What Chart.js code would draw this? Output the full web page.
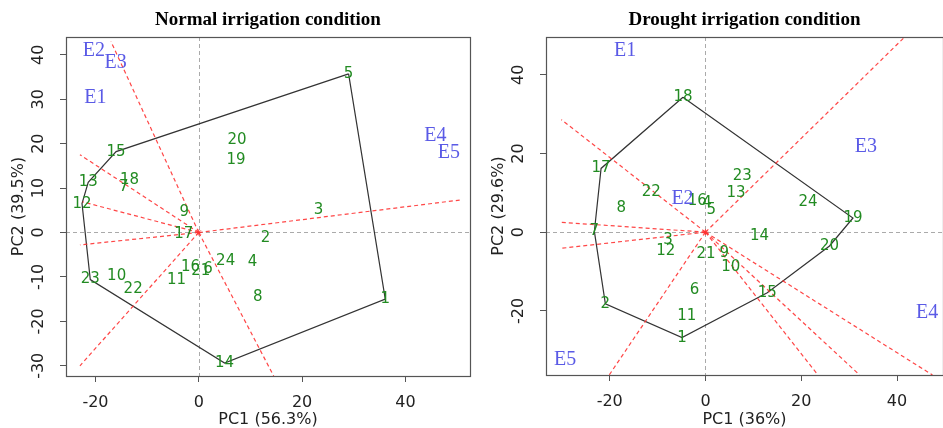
<!DOCTYPE html>
<html>
<head>
<meta charset="utf-8">
<script src="https://cdn.jsdelivr.net/npm/chart.js@4.4.1/dist/chart.umd.min.js"></script>
<style>
html, body { margin: 0; padding: 0; background: #fff; overflow: hidden; width: 943px; height: 428px; }
canvas { position: absolute; top: 0; }
</style>
</head>
<body>
<canvas id="normalChart" width="478" height="428" style="left:0"></canvas>
<canvas id="droughtChart" width="470" height="428" style="left:478px"></canvas>
<script>
// genotype labels 1..24 and environment labels
const genotypes = ['1','2','3','4','5','6','7','8','9','10','11','12','13','14','15','16','17','18','19','20','21','22','23','24'];
const envs = ['E1','E2','E3','E4','E5'];

// normal irrigation biplot
const normGenX = [36.1, 12.9, 23.2, 10.4, 29.0, 1.8, -14.5, 11.4, -2.8, -15.9, -4.3, -22.6, -21.4, 5.0, -16.0, -1.6, -2.9, -13.4, 7.2, 7.4, 0.4, -12.7, -21.0, 5.2];
const normGenY = [-15.0, -1.3, 5.1, -6.7, 35.7, -8.3, 10.2, -14.5, 4.5, -9.9, -10.7, 6.5, 11.3, -29.4, 18.2, -7.8, -0.4, 11.8, 16.3, 20.7, -8.6, -12.7, -10.6, -6.4];
const normEnvX = [-20.0, -20.3, -16.1, 45.8, 48.4];
const normEnvY = [30.4, 40.9, 38.3, 21.7, 18.0];
const normHull = [5, 1, 14, 23, 12, 13, 15, 5];
const normRayX = [-17.0, -23.0, -22.5, -23.0, -23.0, 14.5, 50.5];
const normRayY = [43.0, 17.5, 6.9, -2.8, -30.0, -32.3, 7.3];
const normXTicks = [-20, 0, 20, 40];
const normYTicks = [-30, -20, -10, 0, 10, 20, 30, 40];

// drought irrigation biplot
const drouGenX = [-4.9, -20.9, -7.8, 0.3, 1.2, -2.3, -23.2, -17.6, 3.9, 5.3, -3.9, -8.3, 6.4, 11.3, 12.9, -1.7, -21.8, -4.7, 30.8, 25.9, 0.1, -11.3, 7.7, 21.4];
const drouGenY = [-26.8, -18.2, -2.0, 7.4, 5.7, -14.7, 0.2, 6.1, -5.3, -8.9, -21.3, -4.9, 9.9, -0.9, -15.4, 8.0, 16.2, 34.3, 3.6, -3.5, -5.6, 10.3, 14.3, 7.6];
const drouEnvX = [-16.8, -4.8, 33.5, 46.3, -29.3];
const drouEnvY = [46.2, 8.6, 21.6, -20.6, -32.5];
const drouHull = [18, 19, 20, 15, 1, 2, 7, 17, 18];
const drouRayX = [41.6, -30.1, -30.1, -30.1, -20.1, 23.5, 32.2, 47.4];
const drouRayY = [49.6, 28.6, 2.5, -4.1, -36.3, -36.3, -36.3, -36.3];
const drouXTicks = [-20, 0, 20, 40];
const drouYTicks = [-20, 0, 20, 40];

const GREEN = '#228B22'
const BLUE = '#5a5ae6'
const RED = 'rgba(255,50,50,0.9)'

// draws zero lines, point labels, the box and rotated y tick labels
const biplotPlugin = {
    id: 'biplot',
    beforeDatasetsDraw(chart) {
        const { ctx, chartArea: a, scales: { x, y } } = chart;
        const px = Math.round(x.getPixelForValue(0)) + 0.5;
        const py = Math.round(y.getPixelForValue(0)) + 0.5;
        ctx.save();
        ctx.strokeStyle = '#aaa';
        ctx.lineWidth = 1;
        ctx.setLineDash([4, 3]);
        ctx.beginPath();
        ctx.moveTo(px, a.top); ctx.lineTo(px, a.bottom);
        ctx.moveTo(a.left, py); ctx.lineTo(a.right, py);
        ctx.stroke();
        ctx.restore();
    },
    afterDatasetsDraw(chart) {
        const { ctx, chartArea: a } = chart;
        ctx.save();
        ctx.textAlign = 'center';
        ctx.textBaseline = 'middle';
        chart.data.datasets.forEach((ds, i) => {
            if (!ds.labels) return;
            ctx.font = ds.labelFont;
            ctx.fillStyle = ds.labelColor;
            chart.getDatasetMeta(i).data.forEach((pt, j) => ctx.fillText(ds.labels[j], pt.x, pt.y));
        });
        ctx.strokeStyle = '#555';
        ctx.lineWidth = 1.2;
        ctx.strokeRect(Math.round(a.left) + 0.5, Math.round(a.top) + 0.5, Math.round(a.right - a.left), Math.round(a.bottom - a.top));
        const y = chart.scales.y;
        ctx.font = '16px "DejaVu Sans"';
        ctx.fillStyle = '#222';
        y.ticks.forEach(t => {
            ctx.save();
            ctx.translate(a.left - 27.5, y.getPixelForValue(t.value));
            ctx.rotate(-Math.PI / 2);
            ctx.fillText(String(t.value), 0, 0);
            ctx.restore();
        });
        ctx.restore();
    }
};

function makeBiplot(id, p) {
    const pts = (xs, ys) => xs.map((v, i) => ({ x: v, y: ys[i] }));
    const hull = p.hull.map(k => ({ x: p.genX[k - 1], y: p.genY[k - 1] }));
    const rays = p.rayX.map((ex, i) => ({
        data: [{ x: 0, y: 0 }, { x: ex, y: p.rayY[i] }],
        showLine: true,
        borderColor: RED,
        borderWidth: 1.2,
        borderDash: [4, 3],
        pointRadius: 0
    }));
    new Chart(document.getElementById(id), {
        type: 'scatter',
        data: {
            datasets: [
                ...rays,
                {
                    data: hull,
                    showLine: true,
                    borderColor: '#333',
                    borderWidth: 1.2,
                    pointRadius: 0
                },
                {
                    data: [{ x: 0, y: 0 }],
                    pointStyle: 'star',
                    pointRadius: 3,
                    borderColor: RED,
                    borderWidth: 1
                },
                {
                    data: pts(p.genX, p.genY),
                    pointRadius: 0,
                    labels: genotypes,
                    labelFont: '15px "DejaVu Sans"',
                    labelColor: GREEN
                },
                {
                    data: pts(p.envX, p.envY),
                    pointRadius: 0,
                    labels: envs,
                    labelFont: '20px "Liberation Serif"',
                    labelColor: BLUE
                }
            ]
        },
        options: {
            responsive: false,
            animation: false,
            layout: { padding: { left: 0, right: p.padRight, top: 0, bottom: 0 } },
            plugins: {
                legend: { display: false },
                tooltip: { enabled: false },
                title: {
                    display: true,
                    fullSize: false,
                    text: p.title,
                    color: '#000',
                    font: { family: '"Liberation Serif"', size: 19, weight: 'bold', lineHeight: 1.2 },
                    padding: { top: 8.6, bottom: 5.6 }
                }
            },
            scales: {
                x: {
                    type: 'linear',
                    min: p.xMin,
                    max: p.xMax,
                    afterBuildTicks(s) { s.ticks = p.xTicks.map(v => ({ value: v })) },
                    afterFit(s) { s.height = p.xAxisH },
                    border: { display: false },
                    grid: { drawOnChartArea: false, drawTicks: true, tickLength: 6, tickColor: '#555' },
                    ticks: { color: '#222', padding: 11, maxRotation: 0, font: { family: '"DejaVu Sans"', size: 16 } },
                    title: {
                        display: true,
                        text: p.xTitle,
                        color: '#222',
                        font: { family: '"DejaVu Sans"', size: 16, lineHeight: 1 },
                        padding: { top: 0, bottom: 0 }
                    }
                },
                y: {
                    type: 'linear',
                    min: p.yMin,
                    max: p.yMax,
                    afterBuildTicks(s) { s.ticks = p.yTicks.map(v => ({ value: v })) },
                    afterFit(s) { s.width = p.yAxisW },
                    border: { display: false },
                    grid: { drawOnChartArea: false, drawTicks: true, tickLength: 6, tickColor: '#555' },
                    ticks: { color: 'rgba(0,0,0,0)', font: { family: '"DejaVu Sans"', size: 16 } },
                    title: {
                        display: true,
                        text: p.yTitle,
                        color: '#222',
                        font: { family: '"DejaVu Sans"', size: 16, lineHeight: 1 },
                        padding: { top: p.yTitlePad, bottom: 0 }
                    }
                }
            }
        },
        plugins: [biplotPlugin]
    });
}

makeBiplot('normalChart', {
    title: 'Normal irrigation condition',
    xTitle: 'PC1 (56.3%)', yTitle: 'PC2 (39.5%)',
    genX: normGenX, genY: normGenY, envX: normEnvX, envY: normEnvY,
    hull: normHull, rayX: normRayX, rayY: normRayY,
    xTicks: normXTicks, yTicks: normYTicks,
    xMin: -25.7, xMax: 52.5, yMin: -32.3, yMax: 44.0,
    yAxisW: 66, xAxisH: 52, padRight: 8, yTitlePad: 11
});

makeBiplot('droughtChart', {
    title: 'Drought irrigation condition',
    xTitle: 'PC1 (36%)', yTitle: 'PC2 (29.6%)',
    genX: drouGenX, genY: drouGenY, envX: drouEnvX, envY: drouEnvY,
    hull: drouHull, rayX: drouRayX, rayY: drouRayY,
    xTicks: drouXTicks, yTicks: drouYTicks,
    xMin: -33.3, xMax: 49.6, yMin: -36.3, yMax: 49.6,
    yAxisW: 68, xAxisH: 53, padRight: 2, yTitlePad: 13
});
</script>
</body>
</html>
